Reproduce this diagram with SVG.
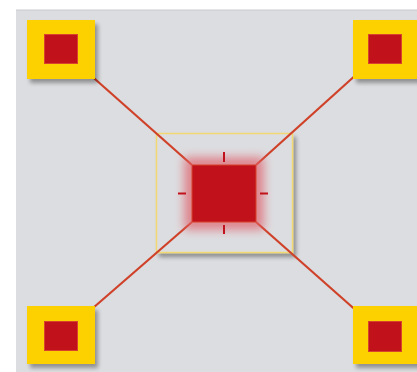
<svg xmlns="http://www.w3.org/2000/svg" width="417" height="372" viewBox="0 0 417 372">
<defs>
<filter id="sh" x="-20%" y="-20%" width="150%" height="150%">
<feGaussianBlur in="SourceAlpha" stdDeviation="2"/>
<feOffset dx="3" dy="4" result="b"/>
<feComponentTransfer><feFuncA type="linear" slope="0.35"/></feComponentTransfer>
<feMerge><feMergeNode/><feMergeNode in="SourceGraphic"/></feMerge>
</filter>
<filter id="glow" x="-50%" y="-50%" width="200%" height="200%">
<feGaussianBlur stdDeviation="5"/>
</filter>
<style>
.y{fill:#fdd000}
.r{fill:#c1121b;stroke:#d8432e;stroke-width:1}
.c{stroke:#cf4128;stroke-width:2.2;fill:none}
.t{stroke:#c1121b;stroke-width:2}
</style>
</defs>
<rect width="417" height="372" fill="#ffffff"/>
<rect x="16" y="10" width="401" height="362" fill="#dcdde0"/>
<line x1="16" y1="10" x2="417" y2="10" stroke="#c9cacd" stroke-width="1"/>
<g id="frame">
<rect x="156.5" y="133.5" width="136" height="119" fill="#dcdde0" stroke="#f2d873" stroke-width="1.5" filter="url(#sh)"/>
</g>
<g id="connectors">
<line class="c" x1="78" y1="64" x2="192" y2="165"/>
<line class="c" x1="368" y1="64" x2="256" y2="165"/>
<line class="c" x1="78" y1="321" x2="192" y2="222"/>
<line class="c" x1="368" y1="321" x2="256" y2="222"/>
</g>
<g id="center">
<rect x="184" y="157" width="80" height="73" fill="#e0606a" opacity="0.7" filter="url(#glow)"/>
<rect class="r" x="192" y="165" width="64" height="57"/>
<line class="t" x1="224" y1="152" x2="224" y2="162"/>
<line class="t" x1="224" y1="225" x2="224" y2="234"/>
<line class="t" x1="178" y1="193.5" x2="186" y2="193.5"/>
<line class="t" x1="260" y1="193.5" x2="268" y2="193.5"/>
</g>
<g id="node-tl">
<rect class="y" x="27" y="20" width="68" height="59" filter="url(#sh)"/>
<rect class="r" x="44.5" y="34.5" width="33" height="29"/>
</g>
<g id="node-tr">
<rect class="y" x="353" y="20" width="68" height="59" filter="url(#sh)"/>
<rect class="r" x="368.5" y="34.5" width="33" height="29"/>
</g>
<g id="node-bl">
<rect class="y" x="27" y="306" width="68" height="58" filter="url(#sh)"/>
<rect class="r" x="44.5" y="321.5" width="33" height="29"/>
</g>
<g id="node-br">
<rect class="y" x="353" y="306" width="68" height="58" filter="url(#sh)"/>
<rect class="r" x="368.5" y="321.5" width="33" height="30"/>
</g>
</svg>
